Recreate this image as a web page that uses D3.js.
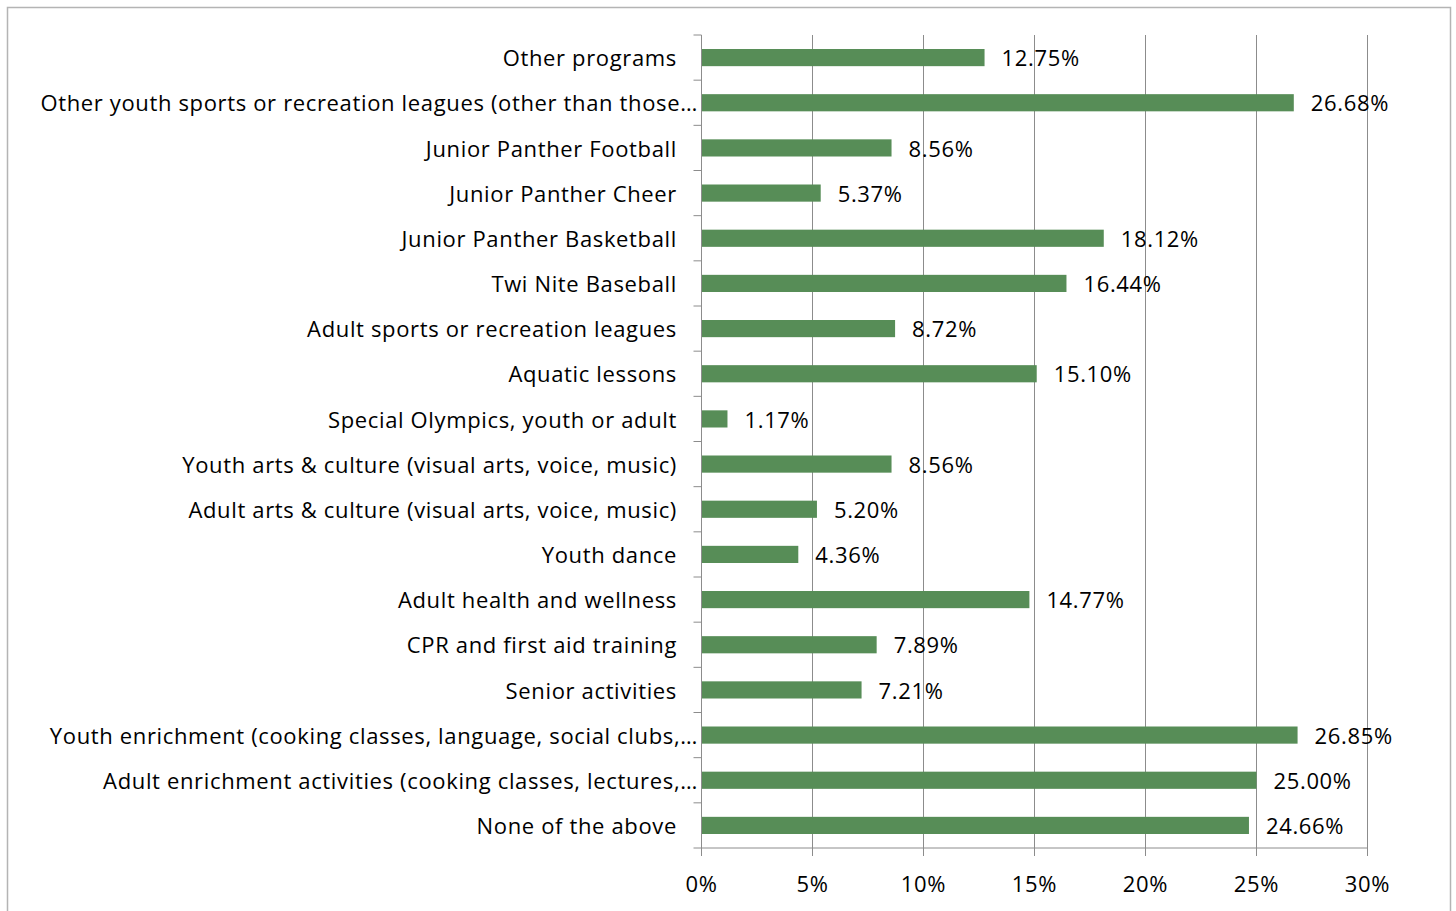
<!DOCTYPE html>
<html>
<head>
<meta charset="utf-8">
<script src="https://cdn.jsdelivr.net/npm/d3@7"></script>
<style>
  body { margin: 0; background: #fff; }
  text { font-family: "Open Sans", sans-serif; fill: #000; letter-spacing: 0.65px; }
</style>
</head>
<body>
<svg id="chart" width="1456" height="911"></svg>
<script>
// categories, top to bottom as drawn
const categories = [
  "Other programs",
  "Other youth sports or recreation leagues (other than those…",
  "Junior Panther Football",
  "Junior Panther Cheer",
  "Junior Panther Basketball",
  "Twi Nite Baseball",
  "Adult sports or recreation leagues",
  "Aquatic lessons",
  "Special Olympics, youth or adult",
  "Youth arts & culture (visual arts, voice, music)",
  "Adult arts & culture (visual arts, voice, music)",
  "Youth dance",
  "Adult health and wellness",
  "CPR and first aid training",
  "Senior activities",
  "Youth enrichment (cooking classes, language, social clubs,…",
  "Adult enrichment activities (cooking classes, lectures,…",
  "None of the above"
];

// percent values
const values = [12.75, 26.68, 8.56, 5.37, 18.12, 16.44, 8.72, 15.10, 1.17, 8.56,
                5.20, 4.36, 14.77, 7.89, 7.21, 26.85, 25.00, 24.66];

const xTicks = [0, 5, 10, 15, 20, 25, 30];

const data = categories.map((c, i) => ({ name: c, value: values[i] }));

const svg = d3.select('#chart');
const gridColor = '#8c8c8c';
const fontSize = '22px';

// outer frame
svg.append('rect')
  .attr('x', 7.5).attr('y', 7.5)
  .attr('width', 1443).attr('height', 912)
  .attr('fill', 'none')
  .attr('stroke', '#b4b4b4')
  .attr('stroke-width', 1.5);

const x = d3.scaleLinear().domain([0, 30]).range([701.5, 1367.5]);
const y = d3.scaleBand().domain(categories).range([35, 848])
  .paddingInner(0.62).paddingOuter(0.31);

// vertical gridlines
svg.append('g').selectAll('line')
  .data(xTicks.slice(1))
  .join('line')
  .attr('x1', d => x(d)).attr('x2', d => x(d))
  .attr('y1', 35).attr('y2', 848)
  .attr('stroke', gridColor).attr('stroke-width', 1);

// bars
svg.append('g').selectAll('rect')
  .data(data)
  .join('rect')
  .attr('x', x(0))
  .attr('y', d => y(d.name))
  .attr('width', d => x(d.value) - x(0))
  .attr('height', y.bandwidth())
  .attr('fill', '#578d57');

// y axis line and ticks between categories
const yAxis = svg.append('g');
yAxis.append('line')
  .attr('x1', x(0)).attr('x2', x(0))
  .attr('y1', 35).attr('y2', 848)
  .attr('stroke', gridColor);
const step = y.step();
yAxis.selectAll('line.tick')
  .data(d3.range(categories.length + 1))
  .join('line')
  .attr('class', 'tick')
  .attr('x1', x(0) - 8).attr('x2', x(0))
  .attr('y1', i => 35 + i * step).attr('y2', i => 35 + i * step)
  .attr('stroke', gridColor);

// category labels
yAxis.selectAll('text')
  .data(data)
  .join('text')
  .attr('x', d => d.name.endsWith('…') ? 698 : 677)
  .attr('y', d => y(d.name) + y.bandwidth() / 2 + 1)
  .attr('dy', '0.35em')
  .attr('text-anchor', 'end')
  .style('font-size', fontSize)
  .text(d => d.name);

// x axis line, ticks, labels
const xAxis = svg.append('g');
xAxis.append('line')
  .attr('x1', x(0)).attr('x2', x(30))
  .attr('y1', 848).attr('y2', 848)
  .attr('stroke', gridColor);
xAxis.selectAll('line.tick')
  .data(xTicks)
  .join('line')
  .attr('class', 'tick')
  .attr('x1', d => x(d)).attr('x2', d => x(d))
  .attr('y1', 848).attr('y2', 856)
  .attr('stroke', gridColor);
xAxis.selectAll('text')
  .data(xTicks)
  .join('text')
  .attr('x', d => x(d))
  .attr('y', 884)
  .attr('dy', '0.35em')
  .attr('text-anchor', 'middle')
  .style('font-size', fontSize)
  .text(d => d + '%');

// data labels
svg.append('g').selectAll('text')
  .data(data)
  .join('text')
  .attr('x', d => x(d.value) + 17)
  .attr('y', d => y(d.name) + y.bandwidth() / 2 + 1)
  .attr('dy', '0.35em')
  .style('font-size', fontSize)
  .text(d => d.value.toFixed(2) + '%');
</script>
</body>
</html>
